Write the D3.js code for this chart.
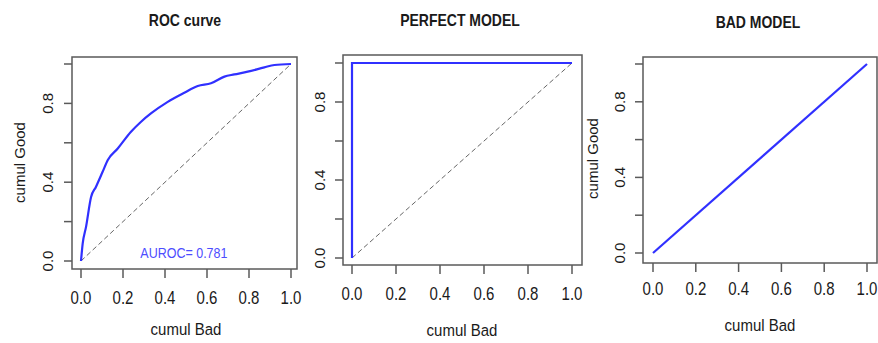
<!DOCTYPE html>
<meta charset="utf-8">
<style>
body { margin: 0; background: #fff; }
svg { display: block; font-family: "Liberation Sans", Arial, sans-serif; }
.box { fill: none; stroke: #5a5a5a; stroke-width: 1.5px; }
.tick line { stroke: #5a5a5a; stroke-width: 1.5px; }
.tick text { font-size: 15px; fill: #1a1a1a; }
.title { font-size: 14px; font-weight: bold; fill: #1a1a1a; }
.lab { font-size: 15px; fill: #1a1a1a; }
.diag { fill: none; stroke: #666; stroke-width: 1px; stroke-dasharray: 5,3; }
.curve { fill: none; stroke: #3030ff; stroke-width: 2.2px; }
</style>
<body>
<script src="https://cdn.jsdelivr.net/npm/d3@7"></script>
<script>

var width = 878,
    height = 343;

// data
var axisTicks = [0, 0.2, 0.4, 0.6, 0.8, 1.0];
var yLabelTicks = [0, 0.4, 0.8];
var titles = ["ROC curve", "PERFECT MODEL", "BAD MODEL"];

var rocBad  = [0, 0.008, 0.024, 0.048, 0.071, 0.103, 0.127, 0.175, 0.238, 0.286, 0.333, 0.413, 0.492, 0.556, 0.619, 0.683, 0.730, 0.794, 0.873, 0.921, 1];
var rocGood = [0, 0.088, 0.173, 0.325, 0.376, 0.453, 0.512, 0.571, 0.656, 0.707, 0.749, 0.808, 0.854, 0.888, 0.902, 0.936, 0.947, 0.961, 0.983, 0.995, 1];
var perfectBad  = [0, 0, 1];
var perfectGood = [0, 1, 1];
var badBad  = [0, 1];
var badGood = [0, 1];
var auroc = 0.781;

var svg = d3.select("body").append("svg")
    .attr("width", width)
    .attr("height", height);

// panel layout, in pixels
var panels = [
  { title: titles[0], box: [72, 57, 297, 269], xr: [81, 291], yr: [261, 64],
    xLabY: 297, yLabX: 48, titleXY: [185, 20], badY: 329, goodX: 20,
    bad: rocBad, good: rocGood, diag: true, smooth: true },
  { title: titles[1], box: [343, 55, 582, 265], xr: [352, 572], yr: [258, 63],
    xLabY: 293, yLabX: 320, titleXY: [460, 20], badY: 330, goodX: null,
    bad: perfectBad, good: perfectGood, diag: true },
  { title: titles[2], box: [643, 57, 877, 263], xr: [653, 867], yr: [253, 64],
    xLabY: 288, yLabX: 620, titleXY: [758, 22], badY: 325, goodX: 593,
    bad: badBad, good: badGood, diag: false }
];

panels.forEach(function(p, i) {
  var x = d3.scaleLinear().domain([0, 1]).range(p.xr),
      y = d3.scaleLinear().domain([0, 1]).range(p.yr);
  var g = svg.append("g");

  g.append("rect")
      .attr("class", "box")
      .attr("x", p.box[0]).attr("y", p.box[1])
      .attr("width", p.box[2] - p.box[0])
      .attr("height", p.box[3] - p.box[1]);

  // x axis
  var xt = g.selectAll(".xt").data(axisTicks).enter().append("g").attr("class", "tick");
  xt.append("line")
      .attr("x1", x).attr("x2", x)
      .attr("y1", p.box[3]).attr("y2", p.box[3] + 9);
  xt.append("text")
      .attr("transform", function(d) { return "translate(" + x(d) + "," + p.xLabY + ") scale(1,1.25)"; })
      .attr("text-anchor", "middle").attr("dy", "0.35em")
      .text(d3.format(".1f"));

  // y axis
  var yt = g.selectAll(".yt").data(axisTicks).enter().append("g").attr("class", "tick");
  yt.append("line")
      .attr("y1", y).attr("y2", y)
      .attr("x1", p.box[0]).attr("x2", p.box[0] - 8);
  g.selectAll(".ylab").data(yLabelTicks).enter().append("g").attr("class", "tick")
    .append("text")
      .attr("transform", function(d) { return "translate(" + p.yLabX + "," + y(d) + ") rotate(-90)"; })
      .attr("text-anchor", "middle").attr("dy", "0.35em")
      .text(d3.format(".1f"));

  if (p.diag) {
    g.append("line")
        .attr("class", "diag")
        .attr("x1", x(0)).attr("y1", y(0))
        .attr("x2", x(1)).attr("y2", y(1));
  }

  var line = d3.line()
      .x(function(d) { return x(d[0]); })
      .y(function(d) { return y(d[1]); })
      .curve(p.smooth ? d3.curveMonotoneX : d3.curveLinear);

  g.append("path")
      .attr("class", "curve")
      .attr("d", line(d3.zip(p.bad, p.good)));

  g.append("text")
      .attr("class", "title")
      .attr("transform", "translate(" + p.titleXY[0] + "," + p.titleXY[1] + ") scale(1,1.15)")
      .attr("text-anchor", "middle").attr("dy", "0.35em")
      .text(p.title);

  g.append("text")
      .attr("class", "lab")
      .attr("transform", "translate(" + (p.xr[0] + p.xr[1]) / 2 + "," + p.badY + ") scale(1,1.15)")
      .attr("text-anchor", "middle").attr("dy", "0.35em")
      .text("cumul Bad");

  if (p.goodX !== null) {
    g.append("text")
        .attr("class", "lab")
        .attr("transform", "translate(" + p.goodX + "," + (p.yr[0] + p.yr[1]) / 2 + ") rotate(-90)")
        .attr("text-anchor", "middle").attr("dy", "0.35em")
        .text("cumul Good");
  }

  if (i === 0) {
    g.append("text")
        .attr("transform", "translate(" + x(0.49) + "," + y(0.044) + ") scale(1,1.2)")
        .attr("text-anchor", "middle").attr("dy", "0.35em")
        .style("font-size", "12.5px").style("fill", "#4d4dff")
        .text("AUROC= " + auroc);
  }
});

</script>
